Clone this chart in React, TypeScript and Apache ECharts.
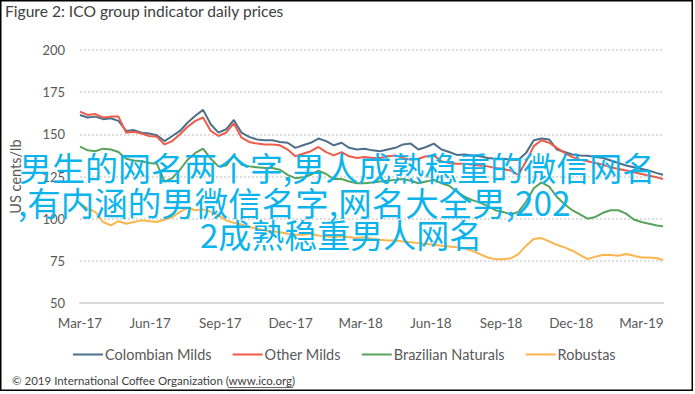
import React, { useEffect, useRef } from "react";
import * as echarts from "echarts";

const titleText = "Figure 2: ICO group indicator daily prices";
const yAxisName = "US cents/lb";
const tickLabels = ["Mar-17", "Jun-17", "Sep-17", "Dec-17", "Mar-18", "Jun-18", "Sep-18", "Dec-18", "Mar-19"];
const seriesNames = ["Colombian Milds", "Other Milds", "Brazilian Naturals", "Robustas"];
const copyrightText = "© 2019 International Coffee Organization (www.ico.org)";
const overlayLines = [
  "男生的网名两个字,男人成熟稳重的微信网名",
  ",有内涵的男微信名字,网名大全男,202",
  "2成熟稳重男人网名",
];

// days since 1 Mar 2017
const sampleDays = [
  0, 10, 20, 30, 40, 50, 60, 70, 80, 90, 100, 110, 120, 130, 140, 150, 160, 170, 180, 190,
  200, 210, 220, 230, 240, 250, 260, 270, 280, 290, 300, 310, 320, 330, 340, 350, 360, 370, 380, 390,
  400, 410, 420, 430, 440, 450, 460, 470, 480, 490, 500, 510, 520, 530, 540, 550, 560, 570, 580, 590,
  600, 610, 620, 630, 640, 650, 660, 670, 680, 690, 700, 710, 720, 730, 740, 750, 758,
];

const colombianMilds = [
  161.5, 160, 160.5, 159, 159.5, 158, 152, 152.5, 151, 150.5, 149.5, 146, 149, 152, 157, 161, 164.5, 156, 151, 153,
  158.5, 151, 148.5, 147, 146.5, 146.5, 145.5, 145, 142, 143.5, 145, 147.5, 146, 143.5, 145, 142, 141, 141.5, 140.5, 140,
  141, 142, 144, 144.5, 141, 142.5, 144.5, 141, 139.5, 137.8, 138, 137.5, 137, 136, 135.5, 135.5, 135, 135, 139, 146.5,
  147.5, 147, 141, 139.5, 138, 137.5, 137.3, 136.5, 136, 134.5, 133, 131.5, 130.5, 129.5, 128.5, 127, 126,
];

const otherMilds = [
  163.5, 161.5, 162, 160, 160.5, 160.5, 151, 151.5, 150.5, 149, 148.5, 144, 146, 150, 154.5, 158, 160, 152, 149, 151,
  156.5, 148, 145.5, 144.5, 144, 144, 143.5, 141, 137, 138.5, 140, 142.5, 139.5, 137.5, 139.5, 137, 136, 136.5, 136, 136,
  137, 137.5, 136, 135, 135.5, 137, 137.5, 134, 133, 132.5, 132.5, 132, 131.5, 131, 130, 129.5, 128.5, 126, 134, 143,
  146.5, 145, 142, 139, 136.5, 135, 134, 133, 132, 130.5, 129.5, 128.5, 127.5, 126.5, 125.5, 124.5, 123.5,
];

const brazilianNaturals = [
  142.7, 140.5, 140, 141.5, 141, 139.5, 135.5, 134.5, 134, 133, 132.5, 122, 124, 129, 135, 139, 141.5, 135.5, 131, 131.5,
  137.5, 132, 131, 130.5, 130, 130, 129, 126, 124, 124.5, 126, 128.5, 126.5, 123.5, 123.5, 122, 121, 121, 121.5, 122,
  122.5, 123, 123.5, 122.5, 121, 122, 123, 121, 119.5, 116, 113, 111, 109.5, 107.5, 105, 104, 102.5, 104, 110, 118,
  121.5, 119, 113, 108.5, 105, 102.5, 100, 101, 103.5, 105, 105, 103, 99.5, 98, 97, 96, 95.5,
];

const robustas = [
  109, 106, 104, 98, 96, 98.5, 97, 98, 99, 98.5, 98, 99.5, 101, 104, 106.5, 105, 105.5, 104, 102, 99,
  97.5, 96.5, 95, 94, 93, 92.5, 92, 91, 90.5, 90.5, 91, 90, 89.5, 89, 89.5, 89, 88.5, 89, 88, 87.5,
  87, 87, 86.5, 86, 85.5, 85, 84.5, 84, 83.5, 83, 82.5, 81, 79, 77, 76, 76, 76.5, 79, 84, 88,
  88.5, 86.5, 84.5, 83, 81, 78.5, 76, 77.5, 78.5, 78.5, 78, 79, 78, 77, 77, 76.5, 75.5,
];

const seriesValues = [colombianMilds, otherMilds, brazilianNaturals, robustas];
const seriesColors = ["#4d6f89", "#ef5b48", "#58a35c", "#fbb54b"];

const FONT = "Lato, 'Open Sans', sans-serif";
const CJK = "'Noto Sans CJK SC'";
const OVERLAY = "#0db4ec";
const QUARTER = 91.25;

export default function App() {
  const ref = useRef<HTMLDivElement>(null);
  useEffect(() => {
    document.body.style.margin = "0";
    const chart = echarts.init(ref.current!, null, { renderer: "svg" });
    const series = seriesNames.map((name, si) => ({
      name,
      type: "line",
      data: sampleDays.map((d, i) => [d, seriesValues[si][i]]),
      showSymbol: false,
      symbol: "none",
      lineStyle: { width: 2, color: seriesColors[si] },
      itemStyle: { color: seriesColors[si] },
      z: 2 + si,
    }));
    chart.setOption({
      animation: false,
      backgroundColor: "#ffffff",
      title: {
        text: titleText,
        left: 5,
        top: 2,
        padding: [1, 0, 0, 0],
        textStyle: { fontFamily: FONT, fontSize: 15.6, fontWeight: "normal", color: "#404040" },
      },
      grid: { left: 78, right: 32, top: 50, bottom: 91, containLabel: false },
      xAxis: {
        type: "value",
        min: 0,
        max: 758,
        interval: QUARTER,
        splitLine: { show: false },
        axisTick: { show: false },
        axisLine: { show: true, onZero: false, lineStyle: { color: "#d9d9d9", width: 2 } },
        axisLabel: {
          margin: 13,
          color: "#595959",
          fontFamily: FONT,
          fontSize: 13.5,
          showMaxLabel: false,
          formatter: (v: number) => {
            const i = Math.round(v / QUARTER);
            return Math.abs(v - i * QUARTER) < 0.01 && tickLabels[i] ? tickLabels[i] : "";
          },
        },
      },
      yAxis: {
        type: "value",
        min: 50,
        max: 200,
        interval: 25,
        name: yAxisName,
        nameLocation: "middle",
        nameGap: 57,
        nameRotate: 90,
        nameTextStyle: { color: "#595959", fontFamily: FONT, fontSize: 14.5 },
        axisLine: { show: false },
        axisTick: { show: false },
        axisLabel: { margin: 15, color: "#595959", fontFamily: FONT, fontSize: 13 },
        splitLine: { show: true, lineStyle: { color: "#d4d4d4", type: [2, 2], width: 1.5 } },
      },
      legend: {
        data: seriesNames,
        left: 73,
        top: 347,
        padding: 0,
        icon: "rect",
        itemWidth: 30,
        itemHeight: 2,
        itemGap: 21,
        textStyle: { color: "#595959", fontFamily: FONT, fontSize: 14.5, padding: [0, 0, 0, -3] },
      },
      series,
      graphic: [
        {
          type: "rect",
          shape: { x: 0.75, y: 0.75, width: 691.5, height: 389.5 },
          style: { fill: "none", stroke: "#000000", lineWidth: 1.5 },
          z: 50,
        },
        {
          type: "text",
          left: 12,
          top: 374,
          style: { text: copyrightText, fill: "#404040", font: `11.5px ${FONT}` },
          z: 50,
        },
        {
          type: "line",
          shape: { x1: 228, y1: 387.5, x2: 293, y2: 387.5 },
          style: { stroke: "#404040", lineWidth: 0.8 },
          z: 50,
        },
        {
          type: "text",
          x: 19,
          y: 167,
          style: { text: overlayLines[0], fill: OVERLAY, font: `33px ${CJK}`, textVerticalAlign: "middle" },
          z: 100,
        },
        {
          type: "text",
          x: 18,
          y: 201,
          style: { text: overlayLines[1], fill: OVERLAY, font: `33.5px ${CJK}`, textVerticalAlign: "middle" },
          z: 100,
        },
        {
          type: "text",
          x: 200,
          y: 234,
          style: { text: overlayLines[2], fill: OVERLAY, font: `33px ${CJK}`, textVerticalAlign: "middle" },
          z: 100,
        },
      ],
    });
    return () => chart.dispose();
  }, []);
  return <div ref={ref} style={{ width: 695, height: 394 }} />;
}
